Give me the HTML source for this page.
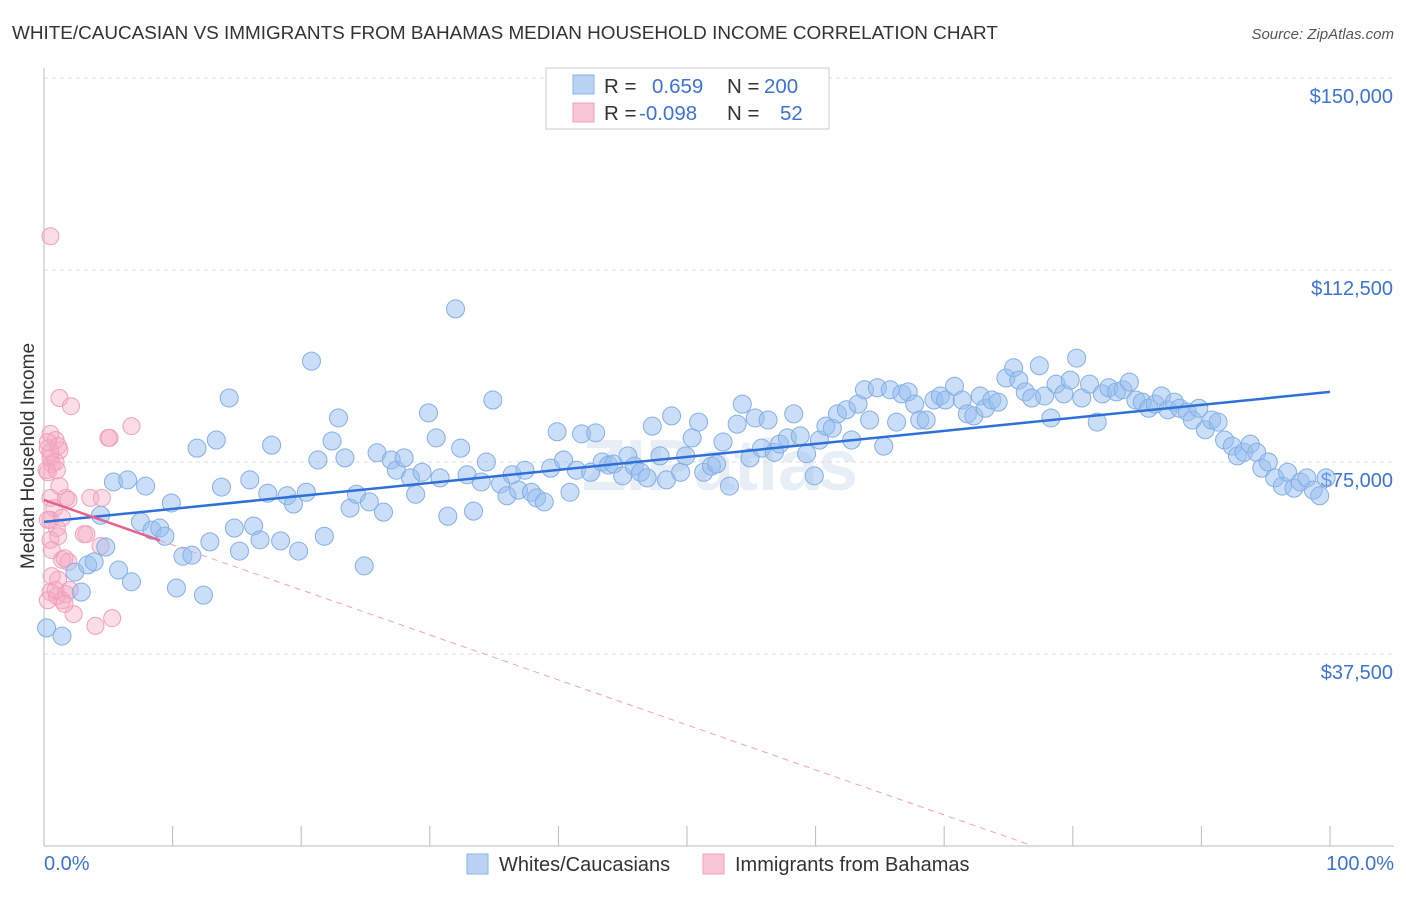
<!DOCTYPE html>
<html><head><meta charset="utf-8">
<style>
body{margin:0;background:#fff;font-family:"Liberation Sans",sans-serif;}
svg text{font-family:"Liberation Sans",sans-serif;}
</style></head>
<body>
<svg id="chart" width="1406" height="892" viewBox="0 0 1406 892" xmlns="http://www.w3.org/2000/svg">
<text x="12" y="39" font-size="18.9" fill="#333">WHITE/CAUCASIAN VS IMMIGRANTS FROM BAHAMAS MEDIAN HOUSEHOLD INCOME CORRELATION CHART</text>
<text x="1394" y="39" font-size="15" fill="#555" font-style="italic" text-anchor="end">Source: ZipAtlas.com</text>
<text x="720" y="490" font-size="72" font-weight="bold" fill="#dfe8f2" text-anchor="middle" opacity="0.7">ZIPatlas</text>
<g id="grid"></g>
<g id="axes"></g>
<g id="pinkPts"></g>
<g id="bluePts"></g>
<g id="trends"></g>
<text x="34" y="456" font-size="19" fill="#333" text-anchor="middle" transform="rotate(-90 34 456)">Median Household Income</text>
<text x="44" y="870" font-size="20" fill="#3b73d6">0.0%</text>
<text x="1394" y="870" font-size="20" fill="#3b73d6" text-anchor="end">100.0%</text>
<g>
<rect x="546" y="68" width="283" height="61" fill="#fff" stroke="#ccc"/>
<rect x="573" y="75" width="21" height="19" fill="#b9d3f5" stroke="#8ab4e8"/>
<rect x="573" y="103" width="21" height="19" fill="#f9c6d6" stroke="#f0a0bc"/>
<text x="604" y="93" font-size="20.5" fill="#333">R =</text>
<text x="652" y="93" font-size="20.5" fill="#3b73d6">0.659</text>
<text x="727" y="93" font-size="20.5" fill="#333">N =</text>
<text x="764" y="93" font-size="20.5" fill="#3b73d6">200</text>
<text x="604" y="120" font-size="20.5" fill="#333">R =</text>
<text x="639" y="120" font-size="20.5" fill="#3b73d6">-0.098</text>
<text x="727" y="120" font-size="20.5" fill="#333">N =</text>
<text x="780" y="120" font-size="20.5" fill="#3b73d6">52</text>
</g>
<g>
<rect x="467" y="854" width="21" height="20" fill="#b9d3f5" stroke="#8ab4e8"/>
<text x="499" y="871" font-size="20" fill="#333">Whites/Caucasians</text>
<rect x="703" y="854" width="21" height="20" fill="#f9c6d6" stroke="#f0a0bc"/>
<text x="735" y="871" font-size="20" fill="#333">Immigrants from Bahamas</text>
</g>
</svg>
<script>
const yTicks=[37.5,75,112.5,150];
const yTickLabels=["$37,500","$75,000","$112,500","$150,000"];
const xTicks=[0,10,20,30,40,50,60,70,80,90,100];
const blueX=[0.2,1.4,2.4,2.9,3.4,3.9,4.4,4.8,5.4,5.8,6.5,6.8,7.5,7.9,8.4,9.0,9.4,9.9,10.3,10.8,11.5,11.9,12.4,12.9,13.4,13.8,14.4,14.8,15.2,16.0,16.3,16.8,17.4,17.7,18.4,18.9,19.4,19.8,20.4,20.8,21.3,21.8,22.4,22.9,23.4,23.8,24.3,24.9,25.3,25.9,26.4,27.0,27.4,28.0,28.5,28.9,29.4,29.9,30.5,30.8,31.4,32.0,32.4,32.9,33.4,34.0,34.4,34.9,35.5,36.0,36.4,36.9,37.4,37.9,38.3,38.9,39.4,39.9,40.4,40.9,41.4,41.8,42.5,42.9,43.4,43.9,44.3,45.0,45.4,45.9,46.4,46.9,47.3,47.9,48.4,48.8,49.5,49.9,50.4,50.9,51.3,51.9,52.3,52.8,53.3,53.9,54.3,54.9,55.3,55.8,56.3,56.8,57.2,57.8,58.3,58.8,59.3,59.9,60.3,60.8,61.3,61.7,62.4,62.8,63.3,63.8,64.2,64.8,65.3,65.8,66.3,66.7,67.2,67.7,68.1,68.6,69.2,69.7,70.1,70.8,71.4,71.8,72.3,72.8,73.2,73.7,74.2,74.8,75.4,75.8,76.3,76.8,77.4,77.8,78.3,78.7,79.3,79.8,80.3,80.7,81.3,81.9,82.3,82.8,83.4,83.9,84.4,84.9,85.4,85.9,86.4,86.9,87.4,87.9,88.3,88.9,89.3,89.8,90.3,90.8,91.3,91.8,92.4,92.8,93.3,93.8,94.3,94.7,95.2,95.7,96.3,96.7,97.2,97.7,98.2,98.7,99.2,99.7];
const blueY=[42.6,41.0,53.5,49.6,54.9,55.5,64.6,58.4,71.1,53.9,71.5,51.6,63.3,70.3,61.7,62.1,60.5,67.0,50.4,56.6,56.8,77.7,49.0,59.4,79.3,70.1,87.5,62.1,57.6,71.5,62.5,59.8,68.9,78.3,59.6,68.4,66.8,57.6,69.1,94.7,75.4,60.5,79.1,83.6,75.8,66.0,68.7,54.7,67.2,76.8,65.2,75.4,73.4,75.8,71.9,68.7,73.0,84.6,79.7,71.9,64.4,104.9,77.7,72.5,65.4,71.1,75.0,87.1,70.7,68.4,72.5,69.5,73.4,69.1,68.0,67.2,73.8,80.9,75.4,69.1,73.4,80.5,73.0,80.7,75.0,74.4,74.6,72.3,76.2,74.2,73.0,71.9,82.0,76.2,71.5,84.0,73.0,76.2,79.7,82.8,73.0,74.2,74.6,78.9,70.3,82.4,86.3,75.8,83.6,77.7,83.2,76.9,78.5,79.7,84.4,80.1,76.6,72.3,79.3,82.0,81.6,84.4,85.2,79.3,86.3,89.1,83.2,89.5,78.1,89.1,82.8,88.3,88.7,86.3,83.2,83.2,87.1,87.9,87.1,89.8,87.1,84.4,84.0,87.9,85.5,87.1,86.7,91.4,93.4,91.0,88.7,87.5,93.8,87.9,83.6,90.2,88.3,91.0,95.3,87.5,90.2,82.8,88.3,89.5,88.7,89.1,90.6,87.1,86.7,85.5,86.3,87.9,85.2,86.7,85.5,84.8,83.2,85.5,81.3,83.2,82.8,79.3,78.1,76.2,76.9,78.5,76.9,73.8,75.0,71.9,70.3,73.0,69.9,71.1,71.9,69.5,68.4,71.9];
const pinkX=[0.5,0.5,0.3,0.5,0.6,0.3,0.9,1.2,0.9,1.2,2.1,0.5,0.8,1.7,0.5,1.0,0.5,1.1,0.6,1.4,1.9,1.1,0.5,1.0,1.4,1.7,2.3,4.0,5.3,3.1,3.6,4.5,4.4,5.0,6.8,1.2,0.3,0.6,1.6,0.3,0.9,1.9,1.4,1.1,0.5,5.1,3.3,0.2,1.0,0.3,2.0,1.6];
const pinkY=[119.1,80.5,77.7,75.8,74.6,73.0,79.3,77.3,75.0,87.5,85.9,68.0,66.0,68.0,63.7,62.1,59.8,60.5,57.8,55.9,55.5,52.0,49.6,48.8,48.0,49.2,45.3,43.0,44.5,60.9,68.0,68.0,58.6,79.7,82.0,70.3,63.7,52.7,56.2,48.0,50.0,67.6,64.1,78.1,76.9,79.7,60.9,73.4,73.4,78.9,50.0,47.3];
const blueTrend=[63.3,88.7];
const pinkTrend=[67.6,-20.3];
const pinkSolidEnd=9;

const NS="http://www.w3.org/2000/svg";
const X0=44,X1=1330,Y0=846,PXK=192/37.5;
function sx(v){return X0+(X1-X0)*v/100;}
function sy(v){return Y0-v*PXK;}
function mk(tag,attrs,parent){const e=document.createElementNS(NS,tag);for(const k in attrs)e.setAttribute(k,attrs[k]);parent.appendChild(e);return e;}
const grid=document.getElementById('grid'),axes=document.getElementById('axes');
yTicks.forEach((t,i)=>{
 const l=mk('line',{x1:X0,y1:sy(t),x2:1394,y2:sy(t),stroke:'#ddd','stroke-dasharray':'4,4'},grid);
 
 
 const tx=mk('text',{x:1393,y:sy(t)+25,'font-size':20,fill:'#3b73d6','text-anchor':'end'},grid);
 tx.textContent=yTickLabels[i];
 
 
});
const ya=mk('line',{x1:X0,y1:68,x2:X0,y2:846,stroke:'#bbb'},axes);


const xa=mk('line',{x1:X0,y1:846,x2:1394,y2:846,stroke:'#bbb'},axes);


xTicks.forEach(t=>{
 const tk=mk('line',{x1:sx(t),y1:826,x2:sx(t),y2:846,stroke:'#bbb'},axes);
 
 
});
const pg=document.getElementById('pinkPts');
pinkX.forEach((v,i)=>{
 const c=mk('circle',{cx:sx(v),cy:sy(pinkY[i]),r:8.5,fill:'rgba(246,170,196,0.4)',stroke:'#f0a0bc','stroke-width':1},pg);
 
 
});
const bg=document.getElementById('bluePts');
blueX.forEach((v,i)=>{
 const c=mk('circle',{cx:sx(v),cy:sy(blueY[i]),r:9,fill:'rgba(150,190,240,0.5)',stroke:'#85afe4','stroke-width':1},bg);
 
 
});
const tg=document.getElementById('trends');
const bl=mk('line',{x1:sx(0),y1:sy(blueTrend[0]),x2:sx(100),y2:sy(blueTrend[1]),stroke:'#2f6fd8','stroke-width':2.5},tg);


function pAt(x){return pinkTrend[0]+(pinkTrend[1]-pinkTrend[0])*x/100;}
const xz=100*pinkTrend[0]/(pinkTrend[0]-pinkTrend[1]);
const pd=mk('line',{x1:sx(pinkSolidEnd),y1:sy(pAt(pinkSolidEnd)),x2:sx(xz),y2:sy(0),stroke:'#f0a0bc','stroke-width':1,'stroke-dasharray':'6,5'},tg);


const ps=mk('line',{x1:sx(0),y1:sy(pAt(0)),x2:sx(pinkSolidEnd),y2:sy(pAt(pinkSolidEnd)),stroke:'#e8608e','stroke-width':2.5},tg);


</script>
</body></html>
